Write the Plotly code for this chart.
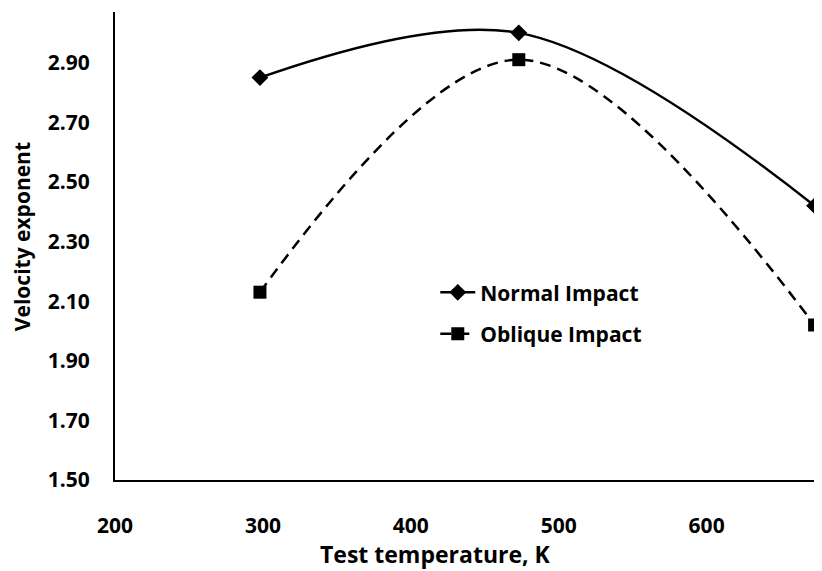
import plotly.graph_objects as go

temperature = [298, 473, 673]
normal_impact = [2.85, 3.00, 2.42]
oblique_impact = [2.13, 2.91, 2.02]

FONT = "Open Sans"

fig = go.Figure()
fig.add_trace(go.Scatter(
    x=temperature, y=normal_impact, name="Normal Impact",
    mode="lines+markers", line=dict(color="black", width=2.5, shape="spline"),
    marker=dict(symbol="diamond", size=13, color="black"),
    legendgroup="a", cliponaxis=False,
))
fig.add_trace(go.Scatter(
    x=temperature, y=oblique_impact, name="Oblique Impact",
    mode="lines+markers",
    line=dict(color="black", width=2.5, dash="11px,7px", shape="spline"),
    marker=dict(symbol="square", size=13, color="black"),
    legendgroup="b", cliponaxis=False,
))

# the page body adds an 8px margin, so the figure is 8px smaller each way
fig.update_layout(
    width=814, height=563,
    margin=dict(l=107, r=0, t=4, b=91),
    plot_bgcolor="white", paper_bgcolor="white",
    font=dict(family=FONT, color="black", size=16),
    showlegend=True,
    legend=dict(x=0.453, y=0.444, xanchor="left", yanchor="top",
                font=dict(family=FONT, size=21, weight="bold"),
                tracegroupgap=11, bgcolor="rgba(0,0,0,0)", itemwidth=35),
    xaxis=dict(
        range=[200, 678], tick0=200, dtick=100, showgrid=False, zeroline=False,
        showline=True, linecolor="black", linewidth=2, ticks="",
        ticklabelstandoff=26, automargin=False,
        tickfont=dict(family=FONT, size=21, weight="bold"),
    ),
    yaxis=dict(
        range=[1.5, 3.07], tick0=1.5, dtick=0.2, tickformat=".2f",
        showgrid=False, zeroline=False,
        showline=True, linecolor="black", linewidth=2, ticks="",
        ticklabelstandoff=19, automargin=False,
        tickfont=dict(family=FONT, size=21, weight="bold"),
    ),
    annotations=[
        dict(text="Test temperature, K", xref="paper", yref="paper",
             x=0.454, y=-0.158, xanchor="center", yanchor="middle",
             showarrow=False, font=dict(family=FONT, size=23, weight="bold")),
        dict(text="Velocity exponent", xref="paper", yref="paper",
             x=-0.1315, y=0.519, xanchor="center", yanchor="middle",
             textangle=-90, showarrow=False,
             font=dict(family=FONT, size=21, weight="bold")),
    ],
)

fig.write_html("out.html")
